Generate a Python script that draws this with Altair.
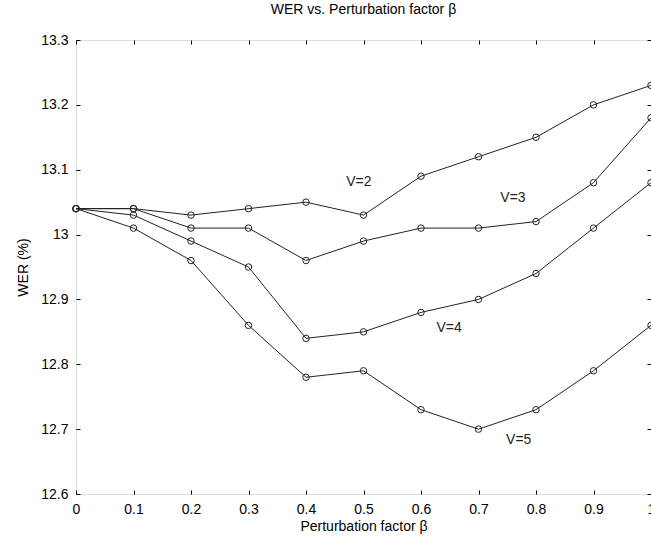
import altair as alt
import pandas as pd

beta = [0.0, 0.1, 0.2, 0.3, 0.4, 0.5, 0.6, 0.7, 0.8, 0.9, 1.0]
wer_v2 = [13.04, 13.04, 13.03, 13.04, 13.05, 13.03, 13.09, 13.12, 13.15, 13.20, 13.23]
wer_v3 = [13.04, 13.04, 13.01, 13.01, 12.96, 12.99, 13.01, 13.01, 13.02, 13.08, 13.18]
wer_v4 = [13.04, 13.03, 12.99, 12.95, 12.84, 12.85, 12.88, 12.90, 12.94, 13.01, 13.08]
wer_v5 = [13.04, 13.01, 12.96, 12.86, 12.78, 12.79, 12.73, 12.70, 12.73, 12.79, 12.86]
series_names = ["V=2", "V=3", "V=4", "V=5"]

label_text = ["V=2", "V=3", "V=4", "V=5"]
label_x = [0.492, 0.760, 0.649, 0.770]
label_y = [13.081, 13.057, 12.856, 12.684]

x_ticks = [0, 0.1, 0.2, 0.3, 0.4, 0.5, 0.6, 0.7, 0.8, 0.9, 1]
y_ticks = [12.6, 12.7, 12.8, 12.9, 13, 13.1, 13.2, 13.3]

rows = []
for name, vals in zip(series_names, [wer_v2, wer_v3, wer_v4, wer_v5]):
    for b, w in zip(beta, vals):
        rows.append({"beta": b, "wer": w, "V": name})
df = pd.DataFrame(rows)
labels_df = pd.DataFrame({"text": label_text, "beta": label_x, "wer": label_y})

FONT = "Liberation Sans"
xs = alt.Scale(domain=[0, 1], nice=False, zero=False)
ys = alt.Scale(domain=[12.6, 13.3], nice=False, zero=False)

common = dict(values=None, grid=False, domain=False, tickColor="black", tickWidth=1,
              tickSize=4, offset=-4, labelFont=FONT, labelFontSize=14, labelColor="black",
              titleFont=FONT, titleFontSize=14, titleFontWeight="normal", titleColor="black")

def ax(orient, values, labels=True, title=None, **kw):
    d = dict(common)
    d["values"] = values
    d["orient"] = orient
    d["labels"] = labels
    d.update(kw)
    if title is None:
        d["title"] = None
    else:
        d["title"] = title
    d = {k: v for k, v in d.items() if v is not None or k == "title"}
    if d.get("title") is None:
        d.pop("title")
        return alt.Axis(title=None, **{k: v for k, v in d.items()})
    return alt.Axis(**d)

bottom_axis = alt.Axis(orient="bottom", values=x_ticks, grid=False, domain=False, tickColor="black",
                       tickWidth=1, tickSize=4, offset=-4, labelFont=FONT, labelFontSize=14,
                       labelColor="black", labelPadding=8, format="~g", labelFlush=False,
                       title="Perturbation factor β", titleFont=FONT, titleFontSize=14,
                       titleFontWeight="normal", titleColor="black", titlePadding=3)
left_axis = alt.Axis(orient="left", values=y_ticks, grid=False, domain=False, tickColor="black",
                     tickWidth=1, tickSize=4, offset=-4, labelFont=FONT, labelFontSize=14,
                     labelColor="black", labelPadding=8, format="~g", labelFlush=False,
                     title="WER (%)", titleFont=FONT, titleFontSize=14,
                     titleFontWeight="normal", titleColor="black", titlePadding=10)
top_axis = alt.Axis(orient="top", values=x_ticks, grid=False, domain=False, tickColor="black",
                    tickWidth=1, tickSize=4, offset=-4, labels=False, title=None)
right_axis = alt.Axis(orient="right", values=y_ticks, grid=False, domain=False, tickColor="black",
                      tickWidth=1, tickSize=4, offset=-4, labels=False, title=None)

lines = alt.Chart(df).mark_line(color="#222222", strokeWidth=1).encode(
    x=alt.X("beta:Q", scale=xs, axis=bottom_axis),
    y=alt.Y("wer:Q", scale=ys, axis=left_axis),
    detail="V:N",
)
points = alt.Chart(df).mark_point(shape="circle", filled=False, color="#222222",
                                  size=42, strokeWidth=1, opacity=1).encode(
    x=alt.X("beta:Q", scale=xs, axis=top_axis),
    y=alt.Y("wer:Q", scale=ys, axis=right_axis),
)
texts = alt.Chart(labels_df).mark_text(font=FONT, fontSize=14, color="#222222",
                                       align="center", baseline="middle").encode(
    x=alt.X("beta:Q", scale=xs, axis=None),
    y=alt.Y("wer:Q", scale=ys, axis=None),
    text="text:N",
)

chart = alt.layer(lines, points, texts).resolve_axis(
    x="independent", y="independent"
).properties(
    width=575, height=454,
    title=alt.TitleParams("WER vs. Perturbation factor β", font=FONT, fontSize=14,
                          fontWeight="normal", color="black", anchor="middle", offset=16),
    autosize=alt.AutoSizeParams(type="none"),
    padding={"left": 76, "top": 40, "right": 0, "bottom": 42},
).configure_view(stroke="black", strokeWidth=1.2).configure(background="white")

chart.save("out.html", embed_options={"renderer": "svg", "actions": False})
